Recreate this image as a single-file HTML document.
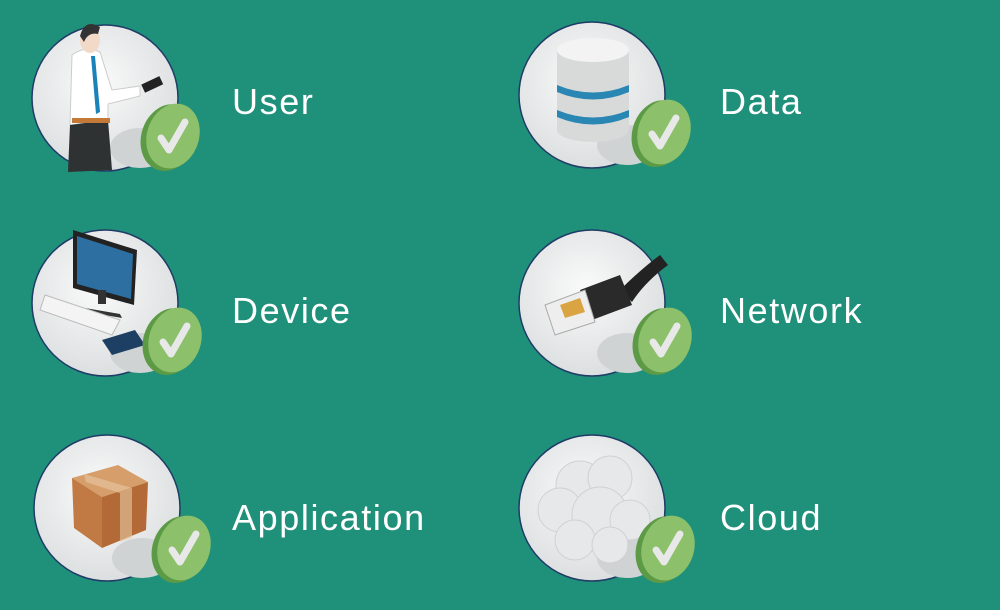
<!DOCTYPE html>
<html><head><style>
body{margin:0;width:1000px;height:610px;background:#1f907a;overflow:hidden;position:relative;font-family:"Liberation Sans",sans-serif}
.t{position:absolute;color:#fff;font-size:36px;letter-spacing:1.6px}
svg{position:absolute;left:0;top:0}
</style></head><body>
<svg width="1000" height="610" viewBox="0 0 1000 610">
<defs>
<radialGradient id="cg" cx="0.45" cy="0.4" r="0.6"><stop offset="0" stop-color="#fafafa"/><stop offset="1" stop-color="#dcdfe0"/></radialGradient>
<g id="badge"><ellipse cx="-4" cy="3" rx="27" ry="34" fill="#5d9a45" transform="rotate(18)"/><ellipse cx="0" cy="0" rx="26" ry="33" fill="#8cc06a" transform="rotate(18)"/><path d="M-12 2 L-4 14 L12 -14" stroke="#e8e8e8" stroke-width="7" fill="none" stroke-linecap="round" stroke-linejoin="round"/></g>
<g id="circ"><circle r="73" fill="url(#cg)" stroke="#1f3b66" stroke-width="1.5"/><ellipse cx="35" cy="50" rx="30" ry="20" fill="#cfd3d4"/></g>
</defs>
<use href="#circ" x="105" y="98"/>
<use href="#circ" x="592" y="95"/>
<use href="#circ" x="105" y="303"/>
<use href="#circ" x="592" y="303"/>
<use href="#circ" x="107" y="508"/>
<use href="#circ" x="592" y="508"/>
<path d="M72 55 Q85 45 100 52 L112 90 L140 86 L140 96 L108 104 L108 120 L70 125 Z" fill="#fff" stroke="#ccc"/>
<path d="M70 125 L108 120 L112 170 L68 172 Z" fill="#2f3233"/>
<rect x="72" y="118" width="38" height="5" fill="#c47a36"/>
<path d="M91 56 L95 56 L100 112 L96 114 Z" fill="#1b82b8"/>
<ellipse cx="90" cy="40" rx="10" ry="13" fill="#f3d9c8"/>
<path d="M80 36 Q85 18 100 27 L98 34 Q88 32 84 42 Z" fill="#333"/>
<rect x="142" y="80" width="20" height="9" fill="#222" transform="rotate(-25 152 84)"/>
<ellipse cx="593" cy="50" rx="36" ry="12" fill="#e8e8e8"/>
<rect x="557" y="50" width="72" height="80" fill="#d8dada"/>
<ellipse cx="593" cy="130" rx="36" ry="12" fill="#d8dada"/>
<path d="M557 85 Q593 100 629 85 L629 92 Q593 107 557 92Z" fill="#2a86b2"/>
<path d="M557 110 Q593 125 629 110 L629 117 Q593 132 557 117Z" fill="#2a86b2"/>
<ellipse cx="593" cy="50" rx="36" ry="12" fill="#f3f3f3"/>
<path d="M73 230 L137 250 L134 305 L73 288Z" fill="#222"/>
<path d="M77 236 L133 254 L131 299 L77 284Z" fill="#2d6fa0"/>
<rect x="98" y="290" width="8" height="14" fill="#333"/>
<path d="M85 308 L120 314 L122 318 L87 312Z" fill="#333"/>
<path d="M45 295 L120 320 L112 335 L40 310Z" fill="#f4f4f4" stroke="#bbb"/>
<path d="M102 340 L135 330 L145 345 L112 355Z" fill="#1d3f63"/>
<path d="M620 290 Q640 270 660 255 L668 265 Q645 282 632 302Z" fill="#222"/>
<path d="M580 290 L620 275 L632 305 L592 320Z" fill="#2a2a2a"/>
<path d="M545 305 L585 290 L595 322 L555 335Z" fill="#eee" stroke="#aaa"/>
<path d="M560 305 L580 298 L585 312 L565 318Z" fill="#d9a441"/>
<path d="M72 478 L118 465 L148 482 L102 497Z" fill="#d69e6a"/>
<path d="M72 478 L102 497 L102 548 L74 528Z" fill="#c27a45"/>
<path d="M102 497 L148 482 L146 530 L102 548Z" fill="#b36a36"/>
<path d="M84 474 L132 488 L132 538 L120 542 L120 493 L86 482Z" fill="#e7c9a5" opacity="0.6"/>
<g fill="#e6e8e9" stroke="#cfd2d4">
<circle cx="580" cy="485" r="24"/><circle cx="610" cy="478" r="22"/><circle cx="560" cy="510" r="22"/><circle cx="600" cy="515" r="28"/><circle cx="630" cy="520" r="20"/><circle cx="575" cy="540" r="20"/><circle cx="610" cy="545" r="18"/></g>
<use href="#badge" x="173" y="136"/>
<use href="#badge" x="664" y="132"/>
<use href="#badge" x="175" y="340"/>
<use href="#badge" x="665" y="340"/>
<use href="#badge" x="184" y="548"/>
<use href="#badge" x="668" y="548"/>
</svg>
<div class="t" style="left:232px;top:81px">User</div>
<div class="t" style="left:720px;top:81px">Data</div>
<div class="t" style="left:232px;top:290px">Device</div>
<div class="t" style="left:720px;top:290px">Network</div>
<div class="t" style="left:232px;top:497px">Application</div>
<div class="t" style="left:720px;top:497px">Cloud</div>
</body></html>
